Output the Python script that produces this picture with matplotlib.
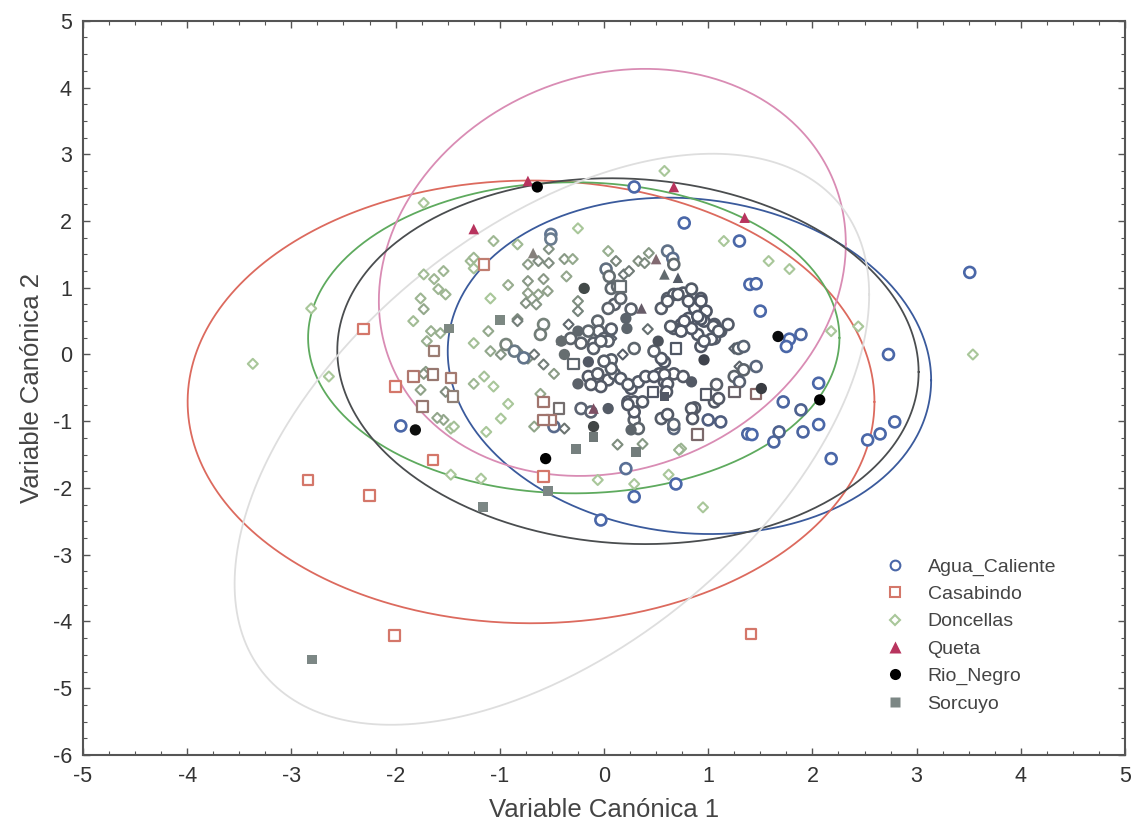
import numpy as np
import matplotlib
matplotlib.use("Agg")
import matplotlib.pyplot as plt
from matplotlib.lines import Line2D
from matplotlib.colors import to_rgb

plt.rcParams['font.family'] = ['Liberation Sans', 'DejaVu Sans']
plt.rcParams['axes.unicode_minus'] = False

# ---- canonical scores per locality -------------------------------------
agua_caliente = [
    (0.29, 2.51), (1.30, 1.70), (3.51, 1.23), (2.73, 0.00), (-1.95, -1.07),
    (2.79, -1.01), (2.06, -0.43), (1.89, -0.83), (2.06, -1.05), (1.91, -1.16),
    (2.18, -1.56), (1.72, -0.71), (1.63, -1.31), (1.68, -1.16), (1.38, -1.19),
    (1.42, -1.20), (2.65, -1.19), (2.53, -1.28), (0.21, -1.71), (0.69, -1.94),
    (0.29, -2.13), (-0.03, -2.48), (1.89, 0.30), (1.78, 0.23), (1.75, 0.12),
    (0.77, 1.97), (-0.51, 1.80), (-0.51, 1.73), (0.61, 1.55), (0.66, 1.44),
    (0.67, 1.35), (0.02, 1.28), (0.05, 1.17), (0.07, 0.99), (0.13, 1.02),
    (0.10, 0.75), (0.04, 0.69), (0.16, 0.84), (-0.58, 0.45), (-0.61, 0.30),
    (1.40, 1.05), (1.46, 1.06), (1.50, 0.65), (0.26, 0.68), (0.61, 0.84),
    (0.67, 0.90), (0.76, 0.92), (0.84, 0.98), (0.93, 0.84), (0.87, 0.69),
    (0.81, 0.54), (0.74, 0.45), (0.67, 0.39), (0.55, 0.69), (0.98, 0.65),
    (1.06, 0.45), (1.12, 0.35), (1.19, 0.45), (0.96, 0.50), (0.90, 0.30),
    (0.84, 0.39), (1.06, 0.24), (-0.06, 0.50), (-0.05, 0.35), (-0.15, 0.35),
    (-0.32, 0.24), (-0.22, 0.17), (-0.10, 0.17), (0.00, 0.24), (0.07, 0.38),
    (-0.10, 0.09), (0.07, -0.08), (-0.15, -0.33), (-0.06, -0.29), (0.04, -0.38),
    (-0.03, -0.48), (-0.125, -0.45), (0.10, -0.29), (0.04, 0.20), (0.29, 0.09),
    (0.58, -0.11), (0.64, 0.42), (0.77, 0.50), (0.93, 0.53), (1.05, 0.42),
    (1.03, 0.23), (0.93, 0.12), (0.67, -0.29), (0.76, -0.33), (0.58, -0.41),
    (0.53, -0.29), (0.26, -0.51), (0.33, -0.41), (0.40, -0.33), (0.23, -0.71),
    (0.29, -0.71), (0.37, -0.71), (0.87, -0.80), (1.08, -0.45), (1.06, -0.71),
    (1.00, -0.98), (1.12, -1.01), (0.55, -0.96), (0.61, -0.90), (0.67, -1.11),
    (-0.22, -0.81), (-0.125, -0.86), (0.29, -0.98), (0.33, -1.11), (-0.48, -1.08),
    (0.29, -0.86), (0.23, -0.75), (0.67, -1.05), (0.84, -0.81), (0.85, -0.96),
    (1.10, -0.66), (1.46, -0.18), (1.34, -0.23), (1.25, -0.33), (1.29, 0.09),
    (1.34, 0.12), (1.30, -0.41), (1.10, 0.35), (0.96, 0.20), (0.90, 0.57),
    (0.81, 0.80), (0.93, 0.80), (0.71, 0.90), (0.61, 0.80), (0.74, 0.35),
    (0.07, -0.21), (0.00, -0.10), (-0.03, 0.20), (0.16, -0.36), (0.23, -0.45),
    (0.48, -0.33), (0.58, -0.30), (0.55, -0.06), (0.48, 0.05), (0.61, -0.44),
    (0.60, -0.56), (-0.94, 0.15), (-0.86, 0.05), (-0.77, -0.05),
]

casabindo = [
    (-1.15, 1.35), (0.69, 0.09), (-1.63, 0.05), (-2.31, 0.38), (-1.83, -0.33),
    (-2.00, -0.48), (-1.64, -0.30), (-1.47, -0.35), (-1.45, -0.63), (-1.74, -0.78),
    (-1.64, -1.58), (-2.84, -1.88), (-2.25, -2.11), (-2.01, -4.21), (1.41, -4.19),
    (-0.58, -1.83), (0.90, -1.20), (-0.29, -0.14), (-0.58, -0.71), (-0.43, -0.81),
    (-0.51, -0.98), (-0.58, -0.98), (0.47, -0.56), (0.98, -0.60), (1.25, -0.56),
    (1.46, -0.59), (0.16, 1.02),
]

doncellas = [
    (0.58, 2.75), (-1.73, 2.27), (-1.06, 1.70), (-0.83, 1.65), (-0.25, 1.89),
    (1.15, 1.70), (-0.53, 1.58), (-0.73, 1.35), (-0.63, 1.40), (-0.53, 1.37),
    (-0.38, 1.43), (-0.30, 1.43), (-0.36, 1.17), (-0.58, 1.13), (-0.73, 1.10),
    (-0.92, 1.04), (-1.09, 0.84), (-0.73, 0.92), (-0.63, 0.90), (-0.54, 0.95),
    (-0.75, 0.77), (-0.65, 0.75), (-0.83, 0.53), (-1.11, 0.35), (-1.25, 0.17),
    (-1.09, 0.05), (-0.25, 0.80), (-0.25, 0.65), (-0.34, 0.45), (0.04, 1.55),
    (0.115, 1.40), (0.19, 1.20), (0.24, 1.25), (0.33, 1.40), (0.43, 1.52),
    (0.39, 1.37), (-1.73, 1.20), (-1.63, 1.13), (-1.59, 0.98), (-1.52, 0.90),
    (-1.76, 0.84), (-1.73, 0.68), (-1.83, 0.50), (-1.66, 0.35), (-1.57, 0.32),
    (-1.28, 1.40), (-1.25, 1.29), (-1.54, 1.25), (0.42, 0.38), (-0.83, 0.50),
    (-0.99, 0.00), (-0.83, 0.05), (-0.73, -0.06), (-0.67, 0.00), (-0.58, -0.15),
    (-0.48, -0.29), (-1.25, -0.44), (-1.15, -0.33), (-1.06, -0.48), (-0.92, -0.74),
    (-0.99, -0.96), (-0.67, -1.08), (-1.76, -0.53), (-1.52, -0.56), (-1.71, -0.26),
    (-1.47, -1.11), (-1.44, -1.08), (-1.54, -0.98), (-1.13, -1.16), (0.13, -1.35),
    (0.74, -1.41), (0.18, 0.00), (0.07, 0.24), (-0.61, -0.59), (-0.38, -1.11),
    (0.37, -1.34), (1.25, 0.09), (1.30, -0.18), (-0.06, -1.88), (0.29, -1.94),
    (0.62, -1.80), (-1.18, -1.86), (-1.47, -1.80), (-3.37, -0.14), (-2.81, 0.69),
    (-2.64, -0.33), (-1.25, 1.45), (-1.70, 0.20), (-1.73, -0.29), (1.58, 1.40),
    (1.78, 1.28), (2.44, 0.42), (3.54, 0.00), (2.18, 0.35), (0.72, -1.43),
    (0.95, -2.29), (-1.60, -0.95),
]

queta = [
    (-0.73, 2.60), (0.67, 2.51), (-1.25, 1.88), (1.35, 2.05), (0.71, 1.15),
    (-0.68, 1.52), (0.50, 1.43), (0.58, 1.20), (0.36, 0.69), (-0.10, -0.81),
    (-0.41, 0.22),
]

rio_negro = [
    (-0.64, 2.51), (-0.19, 0.99), (-1.81, -1.13), (-0.56, -1.56), (2.07, -0.68),
    (1.67, 0.27), (-0.41, 0.20), (-0.38, 0.00), (-0.15, -0.11), (-0.25, -0.44),
    (0.22, 0.39), (0.52, 0.20), (0.96, -0.08), (0.84, -0.41), (0.04, -0.81),
    (-0.10, -1.08), (0.26, -1.13), (1.51, -0.51), (-0.25, 0.35), (0.21, 0.54),
]

sorcuyo = [
    (-2.80, -4.57), (-1.16, -2.28), (-0.54, -2.05), (-1.49, 0.39), (-1.00, 0.52),
    (0.58, -0.63), (-0.10, -1.23), (-0.27, -1.41), (0.31, -1.46),
]

group_names = ['Agua_Caliente', 'Casabindo', 'Doncellas', 'Queta', 'Rio_Negro', 'Sorcuyo']

# 95% dispersion ellipses: centre and covariance (xx, xy, yy)
ellipse_centers = [(0.82, -0.17), (-0.70, -0.71), (-0.29, 0.25),
                   (0.08, 1.23), (0.23, -0.10), (-0.50, -1.27)]
ellipse_covs = [(5.38, -0.50, 6.35), (10.86, 0.0, 11.0), (6.50, 0.0, 5.43),
                (5.02, 0.96, 9.30), (7.78, -0.45, 7.51), (9.27, 6.60, 18.3)]

# ---- styling ------------------------------------------------------------
base_colors = ['#4a67a8', '#d4776a', '#a9c79a', '#b8345e', '#000000', '#7c8785']
core_tones = ['#4f5665', '#5e5e64', '#8c9b88', '#6c746e', '#5e6168', '#626466']
ellipse_colors = ['#3a5a9c', '#dc6a5e', '#5eaa5e', '#d98cb4', '#4a4d4f', '#dedede']
markers = ['o', 's', 'D', '^', 'o', 's']
sizes = [62, 58, 26, 58, 66, 50]
filled = [False, False, False, True, True, True]

groups = [agua_caliente, casabindo, doncellas, queta, rio_negro, sorcuyo]

fig = plt.figure(figsize=(11.41, 8.31), dpi=100)
ax = fig.add_axes([0.0727, 0.0915, 0.9133, 0.8835])

# ellipses
t = np.linspace(0, 2 * np.pi, 500)
circle = np.vstack([np.cos(t), np.sin(t)])
for c, (sxx, sxy, syy), col in zip(ellipse_centers, ellipse_covs, ellipse_colors):
    L = np.linalg.cholesky(np.array([[sxx, sxy], [sxy, syy]]))
    pts = (L @ circle).T + np.array(c)
    ax.plot(pts[:, 0], pts[:, 1], color=col, lw=1.3, zorder=2)

# crowding: points in dense regions take on a muted tone shared with neighbours
all_xy = np.vstack([np.array(g) for g in groups])
all_gid = np.concatenate([[k] * len(g) for k, g in enumerate(groups)])
px = np.column_stack([all_xy[:, 0] * 104.1, all_xy[:, 1] * 66.5])
dist = np.sqrt(((px[:, None, :] - px[None, :, :]) ** 2).sum(-1))
near = dist < 32
count = near.sum(1) - 1
weight = np.clip((count - 3) / 8.0, 0, 1)
tones = np.array([to_rgb(c) for c in core_tones])
neigh_tone = (near[:, :, None] * tones[all_gid][None, :, :]).sum(1) / near.sum(1)[:, None]
bases = np.array([to_rgb(c) for c in base_colors])[all_gid]
point_rgb = bases * (1 - weight[:, None]) + neigh_tone * weight[:, None]

zorders = [4, 5, 3, 6, 6, 6]
widths = [1.9, 1.6, 1.5, 0, 0, 0]
for k, g in enumerate(groups):
    arr = np.array(g)
    cols = point_rgb[all_gid == k]
    if filled[k]:
        ax.scatter(arr[:, 0], arr[:, 1], marker=markers[k], s=sizes[k],
                   c=cols, edgecolors='none', zorder=zorders[k])
    else:
        ax.scatter(arr[:, 0], arr[:, 1], marker=markers[k], s=sizes[k],
                   facecolors='white', edgecolors=cols, linewidths=widths[k],
                   zorder=zorders[k])

# axes
ax.set_xlim(-5, 5)
ax.set_ylim(-6, 5)
ax.set_xticks(np.arange(-5, 6, 1))
ax.set_yticks(np.arange(-6, 6, 1))
ax.set_xticks(np.arange(-5, 5.01, 0.25), minor=True)
ax.set_yticks(np.arange(-6, 5.01, 0.25), minor=True)
ax.tick_params(which='both', direction='in', top=True, right=True, color='#555555')
ax.tick_params(which='major', length=5, width=1.0, labelsize=15.5, labelcolor='#333333', pad=8)
ax.tick_params(which='minor', length=3, width=0.8)
for s in ax.spines.values():
    s.set_color('#555555')
    s.set_linewidth(1.5)

ax.set_xlabel('Variable Canónica 1', fontsize=18.5, color='#444444', labelpad=8)
ax.set_ylabel('Variable Canónica 2', fontsize=18.5, color='#444444', labelpad=6)

handles = []
for k in range(6):
    if filled[k]:
        h = Line2D([], [], linestyle='none', marker=markers[k], markersize=8 if k != 5 else 7,
                   markerfacecolor=base_colors[k], markeredgecolor='none')
    else:
        h = Line2D([], [], linestyle='none', marker=markers[k],
                   markersize=7 if k != 2 else 5,
                   markerfacecolor='white', markeredgecolor=base_colors[k], markeredgewidth=1.5)
    handles.append(h)
leg = ax.legend(handles, group_names, loc='upper left', bbox_to_anchor=(0.762, 0.279),
                frameon=False, fontsize=14, labelspacing=0.5, handletextpad=1.2,
                handlelength=1.0, borderaxespad=0)
for txt in leg.get_texts():
    txt.set_color('#444444')

fig.savefig('out.png', dpi=100, facecolor='white')
